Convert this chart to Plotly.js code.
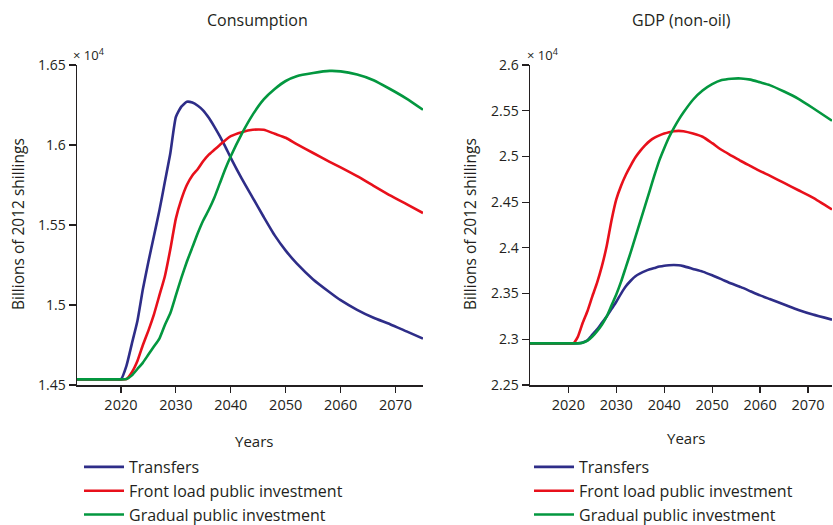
<!DOCTYPE html>
<html>
<head>
<meta charset="utf-8">
<script src="https://cdn.plot.ly/plotly-3.0.1.min.js"></script>
<style>html,body{margin:0;padding:0;background:#fff}#chart{width:833px;height:525px}</style>
</head>
<body>
<div id="chart"></div>
<script>
// ---- Data (values in units of 10^4 billions of 2012 shillings) ----
const seriesNames = ['Transfers', 'Front load public investment', 'Gradual public investment'];
const seriesColors = ['#2e2d88', '#e8101b', '#03973f'];

const consYears = [2012, 2016, 2019, 2020, 2021, 2022, 2023, 2024, 2025, 2026, 2027, 2028, 2029, 2030,
  2031, 2032, 2033, 2034, 2035, 2036, 2037, 2038, 2039, 2040, 2042, 2044, 2046, 2048, 2050,
  2052, 2055, 2058, 2060, 2063, 2066, 2069, 2072, 2075];
const consTransfers = [1.4535, 1.4535, 1.4535, 1.4535, 1.462, 1.476, 1.490, 1.510, 1.527, 1.543, 1.559, 1.577, 1.595, 1.6175,
  1.624, 1.627, 1.6265, 1.6245, 1.6215, 1.617, 1.6115, 1.6055, 1.599, 1.592, 1.579, 1.567, 1.555, 1.5435, 1.534,
  1.526, 1.516, 1.508, 1.503, 1.497, 1.492, 1.488, 1.4835, 1.479];
const consFrontLoad = [1.4535, 1.4535, 1.4535, 1.4535, 1.4537, 1.458, 1.465, 1.475, 1.484, 1.494, 1.506, 1.518, 1.535, 1.554,
  1.566, 1.575, 1.581, 1.585, 1.590, 1.594, 1.597, 1.600, 1.603, 1.6055, 1.608, 1.6095, 1.6095, 1.607, 1.6045,
  1.6005, 1.595, 1.5895, 1.586, 1.5805, 1.5745, 1.5685, 1.563, 1.5575];
const consGradual = [1.4535, 1.4535, 1.4535, 1.4535, 1.4537, 1.456, 1.460, 1.464, 1.469, 1.474, 1.479, 1.4875, 1.495, 1.506,
  1.517, 1.527, 1.536, 1.545, 1.553, 1.5595, 1.567, 1.576, 1.585, 1.593, 1.607, 1.619, 1.6285, 1.635, 1.640,
  1.643, 1.645, 1.6463, 1.646, 1.644, 1.6405, 1.635, 1.629, 1.622];

const gdpYears = [2012, 2016, 2020, 2021, 2022, 2023, 2024, 2025, 2026, 2027, 2028, 2029, 2030, 2031, 2032,
  2033, 2034, 2035, 2036, 2037, 2038, 2039, 2040, 2041, 2042, 2043, 2044, 2046, 2048, 2050, 2052,
  2054, 2056, 2058, 2060, 2062, 2065, 2068, 2071, 2075];
const gdpTransfers = [2.2955, 2.2955, 2.2955, 2.2955, 2.2956, 2.2965, 2.299, 2.305, 2.311, 2.318, 2.325, 2.333, 2.341, 2.350, 2.358,
  2.364, 2.369, 2.372, 2.3745, 2.3765, 2.378, 2.3795, 2.3805, 2.381, 2.3813, 2.381, 2.380, 2.377, 2.374, 2.370, 2.3655,
  2.361, 2.357, 2.3525, 2.348, 2.344, 2.338, 2.332, 2.327, 2.3215];
const gdpFrontLoad = [2.2955, 2.2955, 2.2955, 2.2955, 2.303, 2.318, 2.331, 2.347, 2.362, 2.380, 2.402, 2.430, 2.453, 2.468, 2.480,
  2.490, 2.499, 2.506, 2.512, 2.517, 2.5205, 2.523, 2.525, 2.5265, 2.5275, 2.528, 2.5275, 2.525, 2.5215, 2.5145, 2.507,
  2.501, 2.495, 2.4895, 2.484, 2.479, 2.471, 2.463, 2.455, 2.442];
const gdpGradual = [2.2955, 2.2955, 2.2955, 2.2955, 2.2955, 2.2962, 2.2985, 2.303, 2.309, 2.316, 2.325, 2.337, 2.349, 2.363, 2.379,
  2.395, 2.412, 2.429, 2.446, 2.463, 2.480, 2.496, 2.509, 2.521, 2.531, 2.540, 2.548, 2.562, 2.572, 2.579, 2.5835,
  2.585, 2.5853, 2.584, 2.581, 2.578, 2.571, 2.563, 2.553, 2.539];

const xTickVals = [2020, 2030, 2040, 2050, 2060, 2070];
const consTickVals = [1.45, 1.5, 1.55, 1.6, 1.65];
const consTickText = ['1.45', '1.5', '1.55', '1.6', '1.65'];
const gdpTickVals = [2.25, 2.3, 2.35, 2.4, 2.45, 2.5, 2.55, 2.6];
const gdpTickText = ['2.25', '2.3', '2.35', '2.4', '2.45', '2.5', '2.55', '2.6'];

// ---- Build ----
const W = 833, H = 525;
const px = v => v / W;
const py = v => 1 - v / H;
const ink = '#231f20';
const fontFam = '"Open Sans", Lato, "DejaVu Sans", sans-serif';

const consSeries = [consTransfers, consFrontLoad, consGradual];
const gdpSeries = [gdpTransfers, gdpFrontLoad, gdpGradual];

const traces = [];
consSeries.forEach((ys, i) => traces.push({
  type: 'scatter', mode: 'lines', x: consYears, y: ys, name: seriesNames[i],
  xaxis: 'x', yaxis: 'y', legend: 'legend',
  line: {color: seriesColors[i], width: 2.6, shape: 'spline', smoothing: 0.5}
}));
gdpSeries.forEach((ys, i) => traces.push({
  type: 'scatter', mode: 'lines', x: gdpYears, y: ys, name: seriesNames[i],
  xaxis: 'x2', yaxis: 'y2', legend: 'legend2',
  line: {color: seriesColors[i], width: 2.6, shape: 'spline', smoothing: 0.5}
}));

const xCommon = {
  range: [2012, 2075], tickvals: xTickVals, ticks: 'outside', ticklen: 6, tickwidth: 1.2,
  tickcolor: ink, showline: true, linecolor: ink, linewidth: 1.5, showgrid: false, zeroline: false,
  tickfont: {size: 14.5, color: ink, family: fontFam}, fixedrange: true
};
const yCommon = {
  ticks: 'outside', ticklen: 7, tickwidth: 1.2, tickcolor: ink, showline: true, linecolor: ink,
  linewidth: 1.5, showgrid: false, zeroline: false,
  tickfont: {size: 14, color: ink, family: fontFam}, fixedrange: true
};

const legendCommon = {
  font: {size: 16, color: ink, family: fontFam}, bgcolor: 'rgba(0,0,0,0)',
  xanchor: 'left', yanchor: 'top', orientation: 'v', itemwidth: 40, maxheight: 200
};

const ann = (text, x, y, opts) => Object.assign({
  text, x: px(x), y: py(y), xref: 'paper', yref: 'paper', showarrow: false,
  xanchor: 'center', yanchor: 'middle',
  font: {size: 15, color: ink, family: fontFam}
}, opts || {});

const layout = {
  width: W, height: H,
  margin: {l: 0, r: 0, t: 0, b: 0, autoexpand: false},
  paper_bgcolor: '#fff', plot_bgcolor: '#fff',
  font: {family: fontFam, color: ink},
  showlegend: true,
  xaxis: Object.assign({}, xCommon, {domain: [px(77), px(423)], anchor: 'y'}),
  yaxis: Object.assign({}, yCommon, {domain: [py(385), py(65)], range: [1.45, 1.65],
    tickvals: consTickVals, ticktext: consTickText, anchor: 'x'}),
  xaxis2: Object.assign({}, xCommon, {domain: [px(530), px(832)], anchor: 'y2'}),
  yaxis2: Object.assign({}, yCommon, {domain: [py(385), py(65)], range: [2.25, 2.6],
    tickvals: gdpTickVals, ticktext: gdpTickText, anchor: 'x2'}),
  legend: Object.assign({}, legendCommon, {x: px(79), y: py(450)}),
  legend2: Object.assign({}, legendCommon, {x: px(529), y: py(450)}),
  annotations: [
    ann('Consumption', 257, 20, {font: {size: 16, color: ink, family: fontFam}}),
    ann('GDP (non-oil)', 681, 20, {font: {size: 16, color: ink, family: fontFam}}),
    ann('Years', 254, 441),
    ann('Years', 686, 438),
    ann('Billions of 2012 shillings', 18, 224, {textangle: -90, font: {size: 15.5, color: ink, family: fontFam}}),
    ann('Billions of 2012 shillings', 470, 224, {textangle: -90, font: {size: 15.5, color: ink, family: fontFam}}),
    ann('× 10<sup>4</sup>', 71, 54, {xanchor: 'left', font: {size: 13, color: ink, family: fontFam}}),
    ann('× 10<sup>4</sup>', 525, 54, {xanchor: 'left', font: {size: 13, color: ink, family: fontFam}})
  ]
};

Plotly.newPlot('chart', traces, layout, {staticPlot: true, displayModeBar: false});
</script>
</body>
</html>
